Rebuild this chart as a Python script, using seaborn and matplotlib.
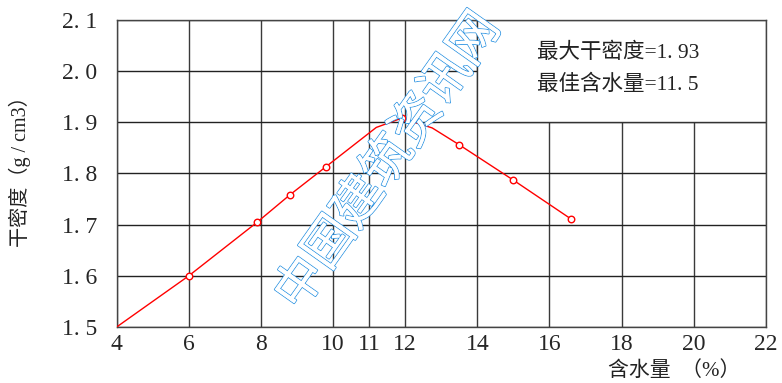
import numpy as np
import pandas as pd
import matplotlib
matplotlib.use("Agg")
import matplotlib.pyplot as plt
import matplotlib.patheffects as pe
from matplotlib.patches import Rectangle
import seaborn as sns

# fitted curve (drawn as a polyline)
curve_w = [4, 6, 7.9, 8.8, 9.8, 11.2, 11.9, 12.75, 13.5, 15.0, 16.6]
curve_d = [1.5, 1.6, 1.705, 1.758, 1.813, 1.89, 1.908, 1.889, 1.856, 1.787, 1.711]
# measured points
point_w = [6, 7.9, 8.8, 9.8, 11.9, 13.5, 15.0, 16.6]
point_d = [1.6, 1.705, 1.758, 1.813, 1.908, 1.856, 1.787, 1.711]

x_ticks = [4, 6, 8, 10, 11, 12, 14, 16, 18, 20, 22]
y_ticks = [1.5, 1.6, 1.7, 1.8, 1.9, 2.0, 2.1]
y_labels = ["1. 5", "1. 6", "1. 7", "1. 8", "1. 9", "2. 0", "2. 1"]

sns.set_style("white")
plt.rcParams['font.family'] = ['Liberation Serif', 'Noto Sans CJK SC', 'DejaVu Sans']

curve = pd.DataFrame({'w': curve_w, 'd': curve_d})
points = pd.DataFrame({'w': point_w, 'd': point_d})

fig = plt.figure(figsize=(7.82, 3.83), dpi=100)
ax = fig.add_axes([0.149, 0.146, 0.8305, 0.802])

# grid
for x in x_ticks:
    ax.axvline(x, color='#3a3a3a', lw=1, zorder=1)
for y in y_ticks:
    ax.axhline(y, color='#222222', lw=1, zorder=1)

# box with the result text (covers the grid)
ax.add_patch(Rectangle((14, 1.9), 8, 0.2, facecolor='white', edgecolor='#333333', lw=1, zorder=2))
ax.text(15.65, 2.036, "最大干密度=1. 93", fontsize=15.5, va='center', color='#222222', zorder=3)
ax.text(15.65, 1.973, "最佳含水量=11. 5", fontsize=15.5, va='center', color='#222222', zorder=3)

sns.lineplot(data=curve, x='w', y='d', color='red', lw=1, ax=ax, sort=False, zorder=4)
sns.scatterplot(data=points, x='w', y='d', s=22, facecolor='white', edgecolor='red', linewidth=1, ax=ax, zorder=5)

ax.set_xlim(4, 22)
ax.set_ylim(1.5, 2.1)
ax.set_xticks(x_ticks)
ax.set_xticklabels([str(x) for x in x_ticks], fontsize=17)
ax.set_yticks(y_ticks)
ax.set_yticklabels(y_labels, fontsize=17)
ax.tick_params(axis='y', length=0, pad=14)
ax.tick_params(axis='x', length=0, pad=5)
for s in ax.spines.values():
    s.set_color('#444444')
    s.set_linewidth(1)
ax.set_xlabel("")
ax.set_ylabel("")

fig.text(0.025, 0.565, "干密度（g / cm3）", rotation=90, fontsize=14.5,
         ha='center', va='center', color='#222222')
fig.text(0.862, 0.03, "含水量  （%）", fontsize=15,
         ha='center', va='center', color='#222222')

# watermark
wm = fig.text(0.497, 0.578, "中国建筑资讯网", rotation=54.7, fontsize=36,
              family=['Noto Sans CJK SC'], color='white', ha='center', va='center', zorder=10)
wm.set_path_effects([pe.withStroke(linewidth=1.3, foreground='#3397e3'), pe.Normal()])

fig.savefig("out.png", dpi=100)
